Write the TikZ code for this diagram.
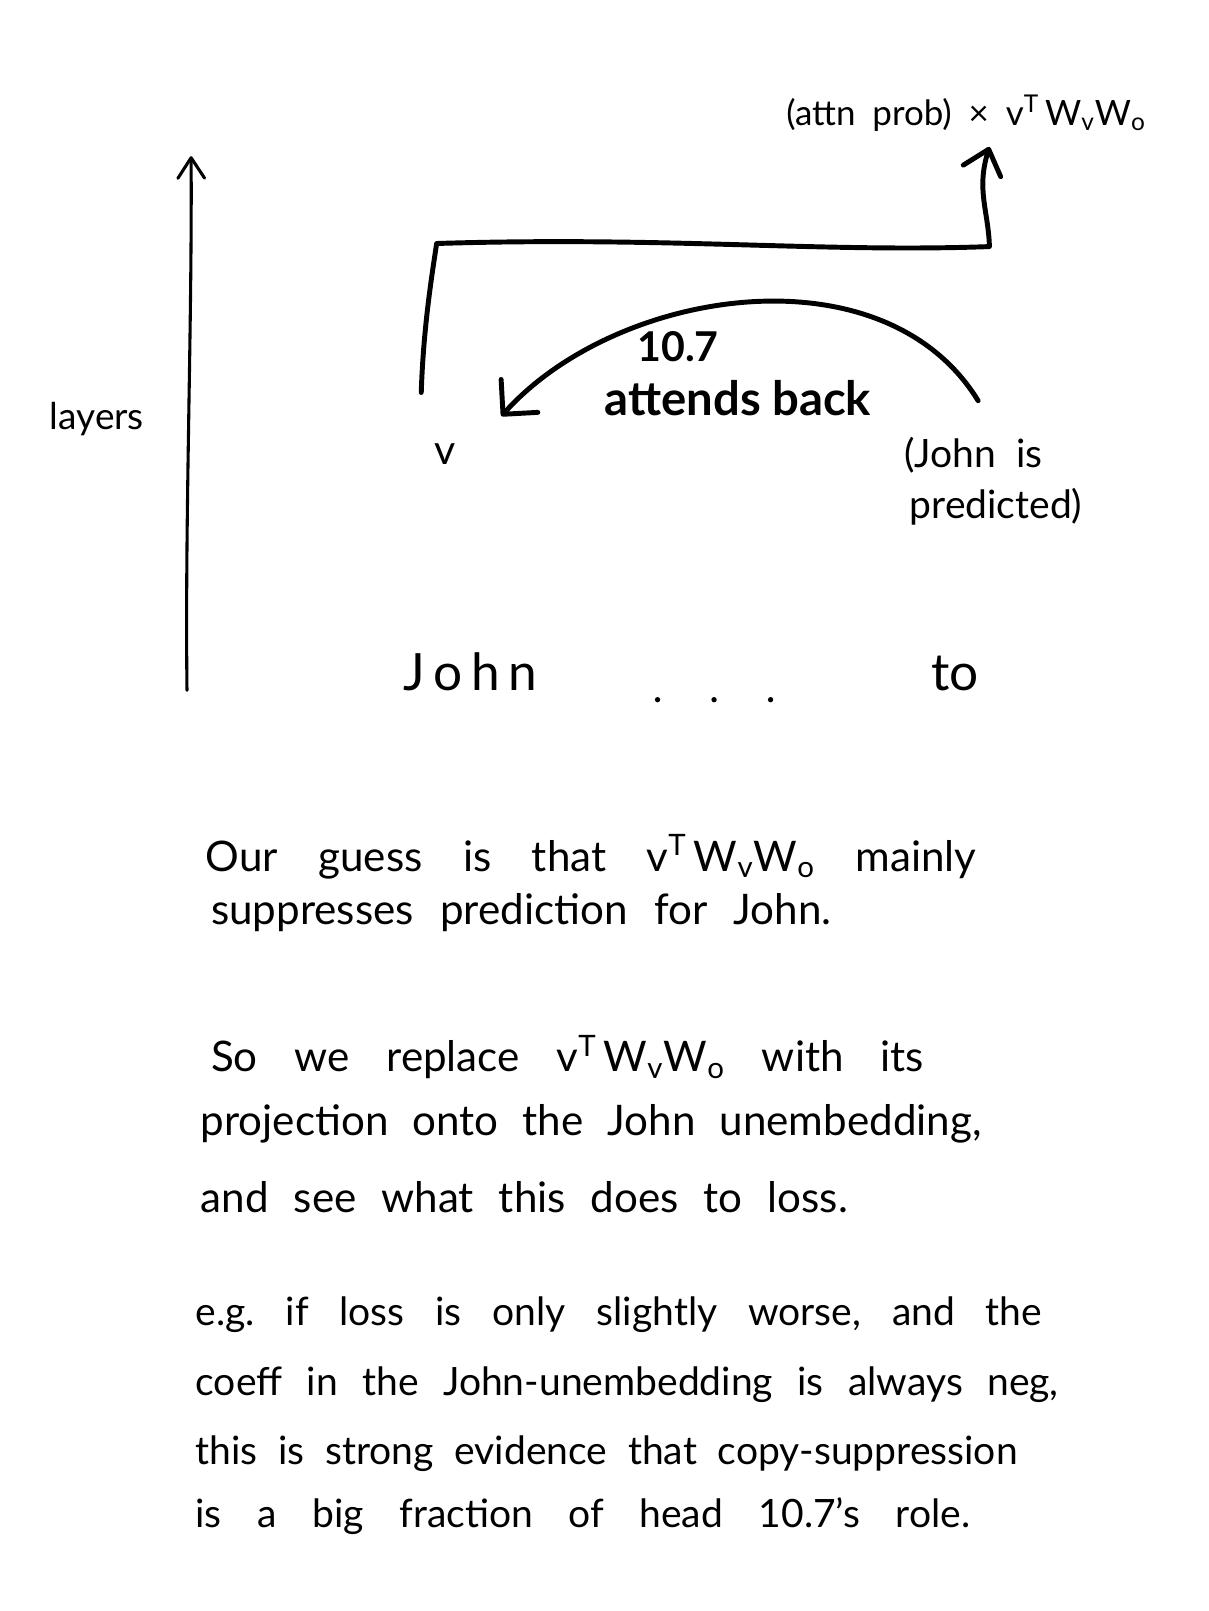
\documentclass[tikz,border=0pt]{standalone}
\usepackage{fontspec}
\setmainfont{Lato}
\usetikzlibrary{arrows.meta}
\frenchspacing
\newcommand{\vWW}{v\textsuperscript{T}\,W\textsubscript{v}W\textsubscript{o}}
% a line of text stretched across a given width
\newcommand{\spread}[2]{\makebox[#1][s]{#2}}
\begin{document}
\begin{tikzpicture}[x=0.5pt,y=-0.5pt,
  ink/.style={line width=2.4pt, line cap=round, line join=round},
  thin ink/.style={line width=1.5pt, line cap=round, line join=round},
  label/.style={inner sep=0pt, font=\fontsize{17}{20}\selectfont},
  note/.style={inner sep=0pt, anchor=base west, font=\fontsize{20.5}{25}\selectfont},
  small note/.style={inner sep=0pt, anchor=base west, font=\fontsize{19}{23}\selectfont},
]
\useasboundingbox[fill=white] (0,0) rectangle (1176,1568);

% ---- labels of the diagram ----
\node[label, anchor=base west, font=\fontsize{17}{20}\selectfont] (out) at (765,122) {\spread{175pt}{(attn prob) \texttimes{} \vWW}};
\node[label, anchor=base west, font=\fontsize{18}{21}\selectfont] (layers) at (48,418) {layers};
\node[label, anchor=base, font=\bfseries\fontsize{20}{23}\selectfont] (head) at (660,352) {10.7};
\node[label, anchor=base west, font=\bfseries\fontsize{23}{26}\selectfont] (attends) at (588,404) {attends back};
\node[label, anchor=base, font=\fontsize{20}{23}\selectfont] (v) at (433,452) {v};
\node[label, anchor=base west, font=\fontsize{19}{23}\selectfont] (pred1) at (880,455) {(John \ is};
\node[label, anchor=base west, font=\fontsize{19}{23}\selectfont] (pred2) at (885,505) {predicted)};
\node[label, anchor=base west, font=\fontsize{25}{28}\selectfont] (john) at (392,672) {J\,o\,h\,n};
\node[label, anchor=base west, font=\fontsize{25}{28}\selectfont] (to) at (906,672) {to};
\foreach \i/\x in {1/640,2/695,3/750}
  \fill (\x,681) circle (2.6) coordinate (dot\i);

% ---- anchor points of the strokes ----
\coordinate (axbot) at (182,672);
\coordinate (axtop) at (186,152);
\coordinate (vtop) at (410,382);
\coordinate (corner) at (425,237);
\coordinate (turn) at (963,240);
\coordinate (outfoot) at (963,143);
\coordinate (tostart) at (952,390);
\coordinate (vend) at (488,405);

% layer axis
\draw[thin ink, -{Straight Barb[length=10pt,width=13pt,round]}]
  (axbot) .. controls (180,500) and (187,320) .. (axtop);

% residual path from v up to the output
\draw[ink, -{Straight Barb[length=11pt,width=19pt,round]}]
  (vtop) .. controls (412,320) and (420,270) .. (corner)
  .. controls (650,230) and (800,246) .. (turn)
  .. controls (962,205) and (950,185) .. (outfoot);

% attention arc from "to" back to John
\draw[ink, -{Straight Barb[length=12pt,width=24pt,round]}]
  (tostart) .. controls (860,240) and (600,280) .. (vend);

% ---- explanation ----
\node[note] (t1) at (200,848) {\spread{375pt}{Our guess is that \vWW{} mainly}};
\node[note] (t2) at (205,900) {\spread{302pt}{suppresses prediction for John.}};
\node[note] (t3) at (205,1043) {\spread{347pt}{So we replace \vWW{} with its}};
\node[note] (t4) at (195,1105) {\spread{380pt}{projection onto the John unembedding,}};
\node[note] (t5) at (195,1180) {\spread{315pt}{and see what this does to loss.}};
\node[small note] (t6) at (190,1290) {\spread{412pt}{e.g. if loss is only slightly worse, and the}};
\node[small note] (t7) at (190,1358) {\spread{420pt}{coeff in the John-unembedding is always neg,}};
\node[small note] (t8) at (190,1425) {\spread{400pt}{this is strong evidence that copy-suppression}};
\node[small note] (t9) at (190,1487) {\spread{377pt}{is a big fraction of head 10.7's role.}};
\end{tikzpicture}
\end{document}
